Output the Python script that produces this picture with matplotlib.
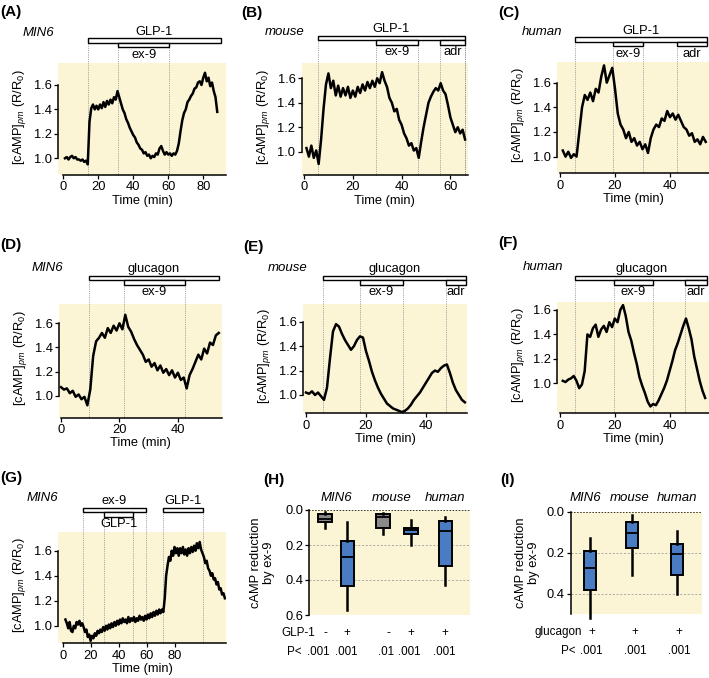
import numpy as np
import matplotlib
matplotlib.use('Agg')
import matplotlib.pyplot as plt
import matplotlib.transforms as mtransforms
from matplotlib.patches import Rectangle
from matplotlib.ticker import FormatStrFormatter

plt.rcParams['font.family'] = ['Liberation Sans', 'DejaVu Sans']
plt.rcParams['mathtext.fontset'] = 'custom'
plt.rcParams['mathtext.rm'] = 'Liberation Sans'
plt.rcParams['mathtext.it'] = 'Liberation Sans:italic'
plt.rcParams['font.size'] = 9

W, H = 709, 678
BG = '#fbf5d6'
BLUE = '#4a7cc3'
GREY = '#8a8a8a'

# --- traces: one value per minute, first sample at *_t0 (min) ---
a_t0 = 1
a_vals = [1.00, 1.01, 0.99, 1.01, 1.02, 1.00, 1.01, 0.99, 0.99, 0.98, 0.99, 0.97, 0.98,
          0.95,
          1.30, 1.41, 1.44, 1.40, 1.43, 1.40, 1.44, 1.41, 1.46, 1.42, 1.47, 1.44, 1.48, 1.45, 1.50, 1.48,
          1.55, 1.50, 1.45, 1.40, 1.37, 1.32, 1.29, 1.25, 1.22, 1.19, 1.17, 1.13, 1.11, 1.08, 1.07,
          1.04, 1.05, 1.02, 1.03, 1.00,
          1.02, 1.01, 1.04, 1.03, 1.08, 1.10, 1.06, 1.03, 1.05, 1.03, 1.04, 1.02, 1.04, 1.03, 1.06,
          1.12, 1.22, 1.31, 1.37, 1.40, 1.46, 1.48, 1.51, 1.53, 1.57, 1.58, 1.62, 1.63, 1.60, 1.66,
          1.70, 1.63, 1.66, 1.59, 1.62, 1.55, 1.50, 1.38]
a_bars = [('GLP-1', 14, 90, 0), ('ex-9', 31.4, 60.6, 1)]

b_t0 = 1
b_vals = [1.03, 0.96, 1.05, 0.95, 1.01, 0.90,
          1.10, 1.35, 1.55, 1.64, 1.52, 1.58, 1.46, 1.54, 1.45, 1.52, 1.46, 1.53, 1.44, 1.50,
          1.45, 1.53, 1.48, 1.55, 1.50, 1.57, 1.52, 1.58, 1.53, 1.60, 1.56, 1.65, 1.58, 1.53,
          1.44, 1.40, 1.33, 1.35, 1.26, 1.22, 1.15, 1.11, 1.05, 1.07, 1.01, 1.03, 0.95, 1.08,
          1.20, 1.30, 1.40, 1.45, 1.49, 1.52, 1.50, 1.56, 1.50, 1.47, 1.38, 1.28, 1.22, 1.16,
          1.20, 1.15, 1.18, 1.10]
b_bars = [('GLP-1', 5.7, 65.9, 0), ('ex-9', 29.5, 46.8, 1), ('adr', 55.7, 65.9, 1)]

c_t0 = 1
c_vals = [1.05, 1.00, 1.04, 0.99, 1.02,
          1.00, 1.20, 1.40, 1.50, 1.46, 1.52, 1.45, 1.55, 1.52, 1.65, 1.74, 1.60, 1.66, 1.72,
          1.55, 1.35, 1.26, 1.22, 1.15, 1.20, 1.12, 1.15, 1.09, 1.12, 1.06, 1.10, 1.03, 1.15,
          1.22, 1.26, 1.24, 1.31, 1.29, 1.37, 1.32, 1.35, 1.30, 1.34, 1.29, 1.24, 1.22, 1.17,
          1.19, 1.12, 1.14, 1.10, 1.16, 1.12]
c_bars = [('GLP-1', 5.5, 53.6, 0), ('ex-9', 19.2, 30.1, 1), ('adr', 42.6, 53.6, 1)]

d_t0 = 0
d_vals = [1.07, 1.05, 1.06, 1.02, 1.04, 0.99, 1.01, 0.97, 0.99, 0.92, 1.05, 1.33, 1.45,
          1.48, 1.52, 1.48, 1.56, 1.52, 1.58, 1.54, 1.60, 1.55, 1.67, 1.57, 1.53, 1.47, 1.42,
          1.38, 1.34, 1.28, 1.30, 1.24, 1.27, 1.21, 1.25, 1.19, 1.22, 1.17, 1.21, 1.15, 1.19,
          1.13, 1.15, 1.06, 1.17, 1.22, 1.28, 1.34, 1.30, 1.39, 1.35, 1.44, 1.42, 1.50, 1.52]
d_bars = [('glucagon', 9.4, 54.2, 0), ('ex-9', 21.4, 42.3, 1)]

e_t0 = 0
e_vals = [1.02, 1.01, 1.03, 1.00, 1.02, 0.99, 0.96, 1.06, 1.30, 1.52, 1.58, 1.56, 1.50,
          1.45, 1.41, 1.37, 1.40, 1.45, 1.48, 1.47, 1.36, 1.28, 1.19, 1.12, 1.06, 1.01, 0.97,
          0.93, 0.91, 0.89, 0.88, 0.87, 0.86, 0.87, 0.89, 0.92, 0.96, 0.99, 1.02, 1.06, 1.10,
          1.14, 1.18, 1.20, 1.19, 1.22, 1.24, 1.25, 1.18, 1.10, 1.04, 1.00, 0.96, 0.94]
e_bars = [('glucagon', 5.6, 53.3, 0), ('ex-9', 18, 32.2, 1), ('adr', 46.7, 53.3, 1)]

f_t0 = 1
f_vals = [1.02, 1.01, 1.03, 1.04, 1.06, 1.02, 0.96, 0.99, 1.10, 1.40, 1.38, 1.45, 1.48,
          1.38, 1.44, 1.47, 1.42, 1.50, 1.46, 1.53, 1.50, 1.60, 1.64, 1.55, 1.42, 1.35, 1.25,
          1.16, 1.05, 0.98, 0.92, 0.85, 0.81, 0.83, 0.82, 0.86, 0.91, 0.96, 1.02, 1.10, 1.18,
          1.27, 1.33, 1.40, 1.47, 1.53, 1.45, 1.36, 1.22, 1.12, 1.02, 0.94, 0.88]
f_bars = [('glucagon', 5.5, 53.7, 0), ('ex-9', 19.8, 33.8, 1), ('adr', 45.6, 53.7, 1)]

g_t0 = 2
g_vals = [1.05, 1.02, 0.98, 1.03, 0.96, 0.95, 1.00, 0.98, 1.03, 1.01, 1.04, 1.00, 1.02, 0.99, 0.95,
          0.97, 0.91, 0.93, 0.88, 0.92, 0.90, 0.94, 0.92, 0.96, 0.94, 0.97, 0.95, 0.99, 0.96,
          1.00, 0.97, 1.01, 0.98, 1.02, 0.99, 1.03, 1.00, 1.04, 1.01, 1.05, 1.02, 1.06, 1.03,
          1.05, 1.02, 1.07, 1.03, 1.06, 1.04, 1.07, 1.03, 1.06, 1.04, 1.08, 1.05, 1.07, 1.04,
          1.08, 1.05, 1.09, 1.06, 1.10, 1.07, 1.11, 1.08, 1.12, 1.09, 1.13, 1.10, 1.13, 1.11,
          1.22, 1.40, 1.48, 1.55, 1.52, 1.60, 1.56, 1.63, 1.58, 1.62, 1.56, 1.62, 1.58, 1.63,
          1.57, 1.61, 1.56, 1.62, 1.58, 1.63, 1.59, 1.64, 1.60, 1.66, 1.62, 1.67, 1.61, 1.58,
          1.55, 1.50, 1.52, 1.46, 1.44, 1.40, 1.42, 1.37, 1.38, 1.33, 1.35, 1.29, 1.30, 1.25,
          1.26, 1.22]
g_bars = [('ex-9', 14.8, 59.5, 0), ('GLP-1', 29.8, 50.1, 1), ('GLP-1', 72, 100.3, 0)]

# --- box plots: reduction of cAMP by ex-9 ---
h_groups = ['MIN6', 'mouse', 'human']
h_glp = ['-', '+', '-', '+', '+']
h_p = ['.001', '.001', '.01', '.001', '.001']
h_min = [0.01, 0.07, 0.015, 0.055, 0.04]
h_q1 = [0.025, 0.176, 0.02, 0.10, 0.06]
h_med = [0.05, 0.27, 0.04, 0.115, 0.12]
h_q3 = [0.07, 0.435, 0.10, 0.135, 0.32]
h_max = [0.10, 0.57, 0.135, 0.20, 0.43]

i_groups = ['MIN6', 'mouse', 'human']
i_glc = ['+', '+', '+']
i_p = ['.001', '.001', '.001']
i_min = [0.127, 0.018, 0.094]
i_q1 = [0.19, 0.049, 0.159]
i_med = [0.273, 0.102, 0.205]
i_q3 = [0.382, 0.179, 0.31]
i_max = [0.52, 0.31, 0.403]

FS = 9.3

fig = plt.figure(figsize=(W / 100, H / 100), dpi=100)


def px_axes(x0, y0, x1, y1):
    return fig.add_axes([x0 / W, 1 - y1 / H, (x1 - x0) / W, (y1 - y0) / H])


def ftext(x, y, s, **kw):
    fig.text(x / W, 1 - y / H, s, **kw)


def style_left(ax, lo, hi):
    for s in ['top', 'right']:
        ax.spines[s].set_visible(False)
    ax.spines['left'].set_bounds(lo, hi)
    ax.spines['left'].set_linewidth(1.1)
    ax.tick_params(axis='both', length=3, width=0.9, pad=1.5, labelsize=FS)


def trace_panel(box, t0, vals, xlim, ylim, xticks, bars, gap):
    ax = px_axes(*box)
    ax.set_facecolor(BG)
    t = t0 + np.arange(len(vals))
    ax.plot(t, vals, color='black', lw=1.8, zorder=3)
    ax.set_xlim(*xlim)
    ax.set_ylim(*ylim)
    ax.set_xticks(xticks)
    ax.set_yticks([1.0, 1.2, 1.4, 1.6])
    ax.yaxis.set_major_formatter(FormatStrFormatter('%.1f'))
    style_left(ax, 1.0, 1.6)
    ax.spines['bottom'].set_bounds(0, xlim[1])
    ax.spines['bottom'].set_linewidth(1.1)
    ax.set_xlabel('Time (min)', fontsize=FS, labelpad=1)
    ax.set_ylabel(r'[cAMP]$_{\mathit{pm}}$ (R/R$_\mathrm{0}$)', fontsize=FS)
    hpx = box[3] - box[1]
    wpx = box[2] - box[0]
    ax.yaxis.set_label_coords(-30 / wpx, 0.52)
    tr = mtransforms.blended_transform_factory(ax.transData, ax.transAxes)
    rh = 4.5
    for label, start, end, row in bars:
        top = 1 + (gap - row * rh) / hpx
        bot = top - rh / hpx
        ax.add_patch(Rectangle((start, bot), end - start, rh / hpx, transform=tr,
                               facecolor='white', edgecolor='black', lw=1.0,
                               clip_on=False, zorder=4))
        mid = (start + end) / 2
        if row == 0:
            ax.text(mid, top + 0.3 / hpx, label, transform=tr, ha='center', va='bottom', fontsize=FS)
        else:
            ax.text(mid, bot - 1.5 / hpx, label, transform=tr, ha='center', va='top', fontsize=FS)
        for edge in (start, end):
            if edge < t[-1]:
                ax.plot([edge, edge], [0, bot], transform=tr, color='#8c8c8c', lw=0.6,
                        ls=(0, (1, 1.2)), clip_on=False, zorder=2)
    return ax


trace_panel((58, 63, 226, 175), a_t0, a_vals, (-3, 93), (0.863, 1.78), [0, 20, 40, 60, 80], a_bars, 24.7)
trace_panel((301.7, 63, 468, 175), b_t0, b_vals, (-0.95, 67.2), (0.81, 1.725), [0, 20, 40, 60], b_bars, 27.3)
trace_panel((557.3, 61.7, 709, 173.3), c_t0, c_vals, (-1.0, 54.2), (0.865, 1.77), [0, 20, 40], c_bars, 24.4)
trace_panel((59.3, 304, 221.7, 417.7), d_t0, d_vals, (-0.6, 55), (0.817, 1.76), [0, 20, 40], d_bars, 28.3)
trace_panel((303.3, 304, 466.7, 413.3), e_t0, e_vals, (-0.9, 53.6), (0.85, 1.745), [0, 20, 40], e_bars, 28.3)
trace_panel((557.3, 302.3, 709, 413.3), f_t0, f_vals, (-1.0, 54.4), (0.754, 1.663), [0, 20, 40], f_bars, 26.6)
trace_panel((58.3, 531.7, 226, 643.3), g_t0, g_vals, (-3.1, 116.8), (0.86, 1.752), [0, 20, 40, 60, 80], g_bars, 24)


def box_panel(box, positions, xlim, ymax, yticks, mins, q1s, meds, q3s, maxs, colors, width,
              groups, group_x, row_label, row_marks, mark_x, pvals, p_x, label_gap, ylab_off):
    ax = px_axes(*box)
    ax.set_facecolor(BG)
    hpx = box[3] - box[1]
    wpx = box[2] - box[0]
    stats = [dict(whislo=a, q1=b, med=c, q3=d, whishi=e) for a, b, c, d, e in zip(mins, q1s, meds, q3s, maxs)]
    art = ax.bxp(stats, positions=positions, widths=width, patch_artist=True,
                 showfliers=False, showcaps=False,
                 boxprops=dict(edgecolor='black', lw=1.4),
                 whiskerprops=dict(color='black', lw=1.8),
                 medianprops=dict(color='black', lw=1.3))
    for patch, col in zip(art['boxes'], colors):
        patch.set_facecolor(col)
    for key in ('boxes', 'whiskers', 'medians'):
        for a in art[key]:
            a.set_clip_on(False)
            a.set_zorder(4)
    ax.set_xlim(*xlim)
    ax.set_ylim(ymax, 0)
    ax.set_yticks(yticks)
    ax.yaxis.set_major_formatter(FormatStrFormatter('%.1f'))
    style_left(ax, 0, ymax)
    ax.spines['bottom'].set_visible(False)
    ax.set_xticks([])
    ax.axhline(0, color='black', lw=1.1, ls=(0, (1, 1)), zorder=3)
    for yv in yticks[1:]:
        ax.axhline(yv, color='#a0a0a0', lw=0.6, ls=(0, (2.5, 2)), zorder=1)
    ax.set_ylabel('cAMP reduction\nby ex-9', fontsize=FS, linespacing=1.1)
    ax.yaxis.set_label_coords(-ylab_off / wpx, 0.5)
    tr = mtransforms.blended_transform_factory(ax.transData, ax.transAxes)
    for g, gx in zip(groups, group_x):
        ax.text(gx, 1 + label_gap / hpx, g, transform=tr, ha='center', va='center',
                fontsize=9.5, style='italic')
    row_y = -18 / hpx
    p_y = -37 / hpx
    fs = 8.4
    ax.text(row_label[1], row_y, row_label[0], transform=tr, ha='right', va='center', fontsize=fs)
    ax.text(row_label[2], p_y, 'P<', transform=tr, ha='right', va='center', fontsize=fs)
    for x, m in zip(mark_x, row_marks):
        ax.text(x, row_y, m, transform=tr, ha='center', va='center', fontsize=fs)
    for x, p in zip(p_x, pvals):
        ax.text(x, p_y, p, transform=tr, ha='center', va='center', fontsize=fs)
    return ax


h_pos = [1, 2, 3.6, 4.85, 6.4]
h_cols = [GREY if m == '-' else BLUE for m in h_glp]
box_panel((309.3, 510, 470, 615), h_pos, (0.296, 7.5), 0.6, [0.0, 0.2, 0.4, 0.6],
          h_min, h_q1, h_med, h_q3, h_max, h_cols, 0.6,
          h_groups, [1.5, 3.99, 6.38], ('GLP-1', 0.55, -0.05), h_glp,
          [1.0, 2.0, 3.84, 4.86, 6.38], h_p, [0.72, 1.97, 3.75, 4.8, 6.35], 11.7, 34)

i_pos = [1, 2, 3.08]
box_panel((571, 511.7, 701.7, 614), i_pos, (0.544, 3.68), 0.5, [0.0, 0.2, 0.4],
          i_min, i_q1, i_med, i_q3, i_max, [BLUE] * 3, 0.28,
          i_groups, [0.88, 1.94, 3.08], ('glucagon', 0.8, 0.66), i_glc,
          [1.04, 2.08, 3.14], i_p, [1.04, 2.08, 3.14], 13.4, 31)

# cell type labels and panel letters
for s, x, y in [('MIN6', 23, 33), ('mouse', 265, 32), ('human', 521.7, 32),
                ('MIN6', 31.7, 268), ('mouse', 268, 267.7), ('human', 523, 267),
                ('MIN6', 26.7, 498)]:
    ftext(x, y, s, ha='left', va='center', fontsize=9.5, style='italic')

for s, x, y in [('(A)', 0, 12), ('(B)', 241.7, 13), ('(C)', 498, 12.7),
                ('(D)', 0, 245), ('(E)', 243.3, 246.7), ('(F)', 498.3, 243),
                ('(G)', 0, 478), ('(H)', 263.3, 480), ('(I)', 500, 480)]:
    ftext(x, y, s, ha='left', va='center', fontsize=11, fontweight='bold')

fig.savefig('out.png', dpi=100)
